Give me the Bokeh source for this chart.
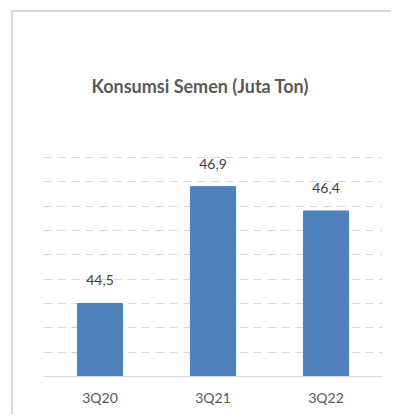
from bokeh.plotting import figure
from bokeh.layouts import column
from bokeh.models import ColumnDataSource, Range1d, FixedTicker
from bokeh.core.properties import value
from bokeh.embed import file_html
from bokeh.resources import INLINE

# Cement consumption, million tons
quarters = ["3Q20", "3Q21", "3Q22"]
consumption = [44.5, 46.9, 46.4]
grid_ticks = [43.5, 44.0, 44.5, 45.0, 45.5, 46.0, 46.5, 47.0, 47.5]

FONT = "Lato"
BORDER = "#d9d9d9"

labels = [f"{v:.1f}".replace(".", ",") for v in consumption]
src = ColumnDataSource(dict(q=quarters, v=consumption, lbl=labels))

p = figure(width=378, height=402, x_range=quarters, y_range=Range1d(43.0, 47.52),
           output_backend="svg", toolbar_location=None,
           title="Konsumsi Semen (Juta Ton)",
           min_border_left=30, min_border_right=9, min_border_top=144,
           min_border_bottom=38)
p.styles = {"overflow": "hidden"}
p.outline_line_color = None
p.background_fill_color = "white"
p.border_fill_color = "white"

p.title.align = "left"
p.title.offset = 48
p.title.standoff = 120
p.title.text_font = FONT
p.title.text_font_size = "18px"
p.title.text_font_style = "bold"
p.title.text_color = "#595959"

p.vbar(x="q", top="v", bottom=43.0, width=0.4, source=src,
       fill_color="#4f81bd", line_color="#4f81bd")

p.text(x="q", y="v", text="lbl", source=src, y_offset=-23,
       text_align="center", text_baseline="middle",
       text_font=value(FONT), text_font_size="14px", text_color="#404040")

# y axis hidden; dashed horizontal grid
p.yaxis.visible = False
p.ygrid.ticker = FixedTicker(ticks=grid_ticks)
p.ygrid.grid_line_color = "#d9d9d9"
p.ygrid.grid_line_dash = "8 6"
p.ygrid.grid_line_width = 1
p.xgrid.grid_line_color = None

xa = p.xaxis[0]
xa.axis_line_color = "#d9d9d9"
xa.axis_line_width = 1
xa.major_tick_line_color = None
xa.minor_tick_line_color = None
xa.major_label_text_font = FONT
xa.major_label_text_font_size = "14px"
xa.major_label_text_color = "#595959"
xa.major_label_standoff = 6

# the chart sits inside a light frame drawn on its top and left edges
page = column(p, styles={"margin-top": "10px", "margin-left": "11px",
                         "border-top": f"2px solid {BORDER}",
                         "border-left": f"2px solid {BORDER}",
                         "box-sizing": "content-box",
                         "overflow": "hidden"})

html = file_html(page, INLINE)
# keep the page from scrolling
html = html.replace("</head>", "<style>html, body { overflow: hidden; margin: 0; }</style></head>", 1)
open("out.html", "w").write(html)
